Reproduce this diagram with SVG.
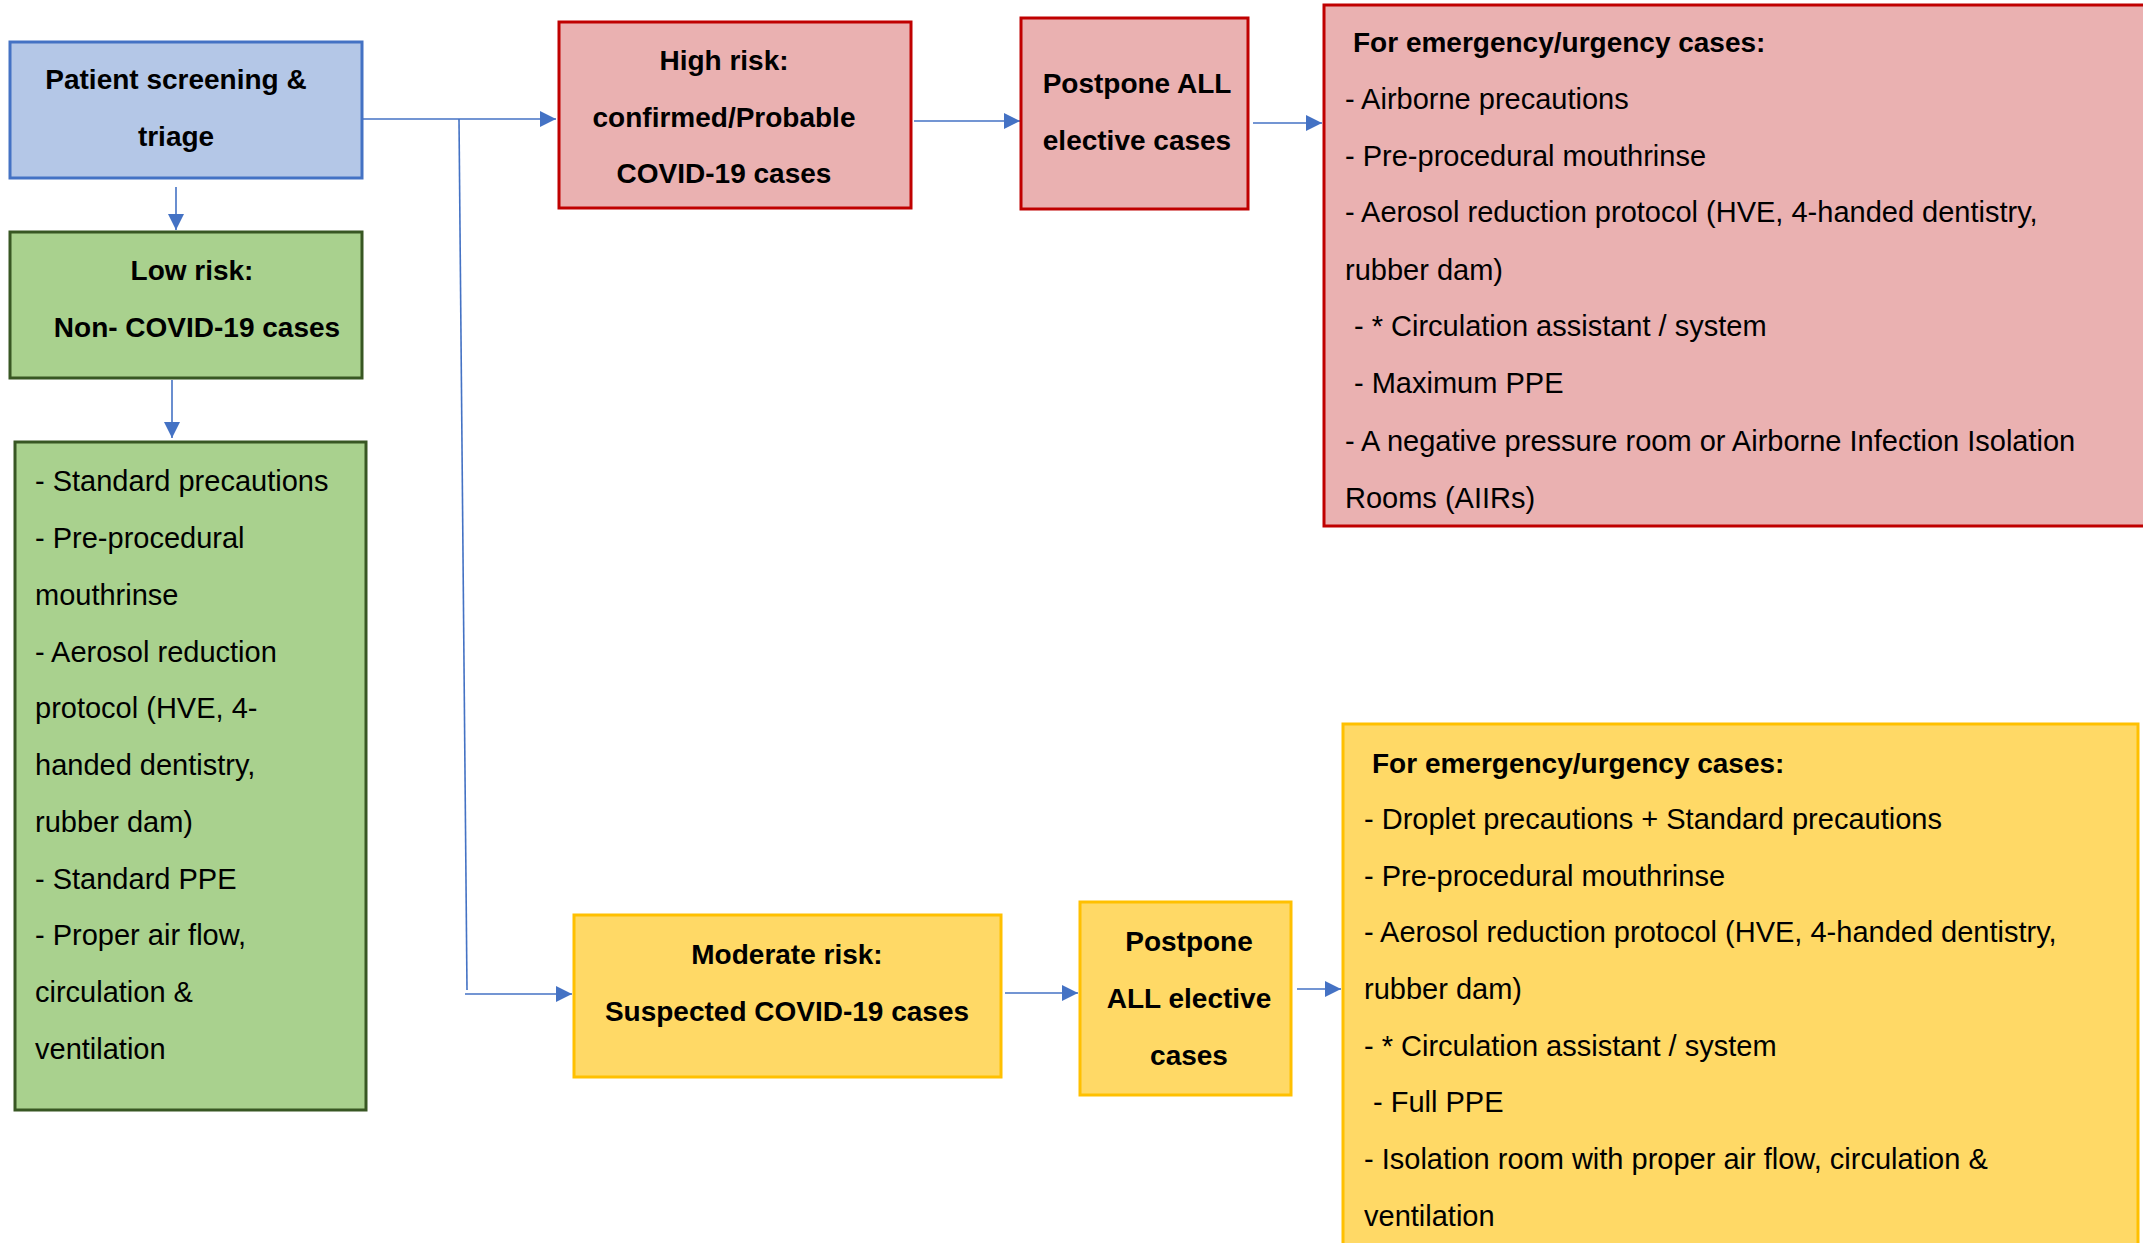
<svg xmlns="http://www.w3.org/2000/svg" width="2143" height="1243" viewBox="0 0 2143 1243">
<style>
.bx{stroke-width:3}
.blue{fill:#B4C7E7;stroke:#4472C4}
.green{fill:#A9D18E;stroke:#385723}
.red{fill:#EAB1B1;stroke:#C00000}
.yel{fill:#FFD966;stroke:#FFC000}
.lbl{font-family:"Liberation Sans",Arial,sans-serif;font-size:28px;font-weight:bold;text-anchor:middle;fill:#000}
.ttl{font-family:"Liberation Sans",Arial,sans-serif;font-size:28px;font-weight:bold;fill:#000}
.lst{font-family:"Liberation Sans",Arial,sans-serif;font-size:29px;fill:#000}
.con{fill:none;stroke:#4472C4;stroke-width:1.6}
</style>
<defs>
<marker id="ah" viewBox="0 0 16 16" refX="16" refY="8" markerWidth="16" markerHeight="16" markerUnits="userSpaceOnUse" orient="auto">
<path d="M0,0 L16,8 L0,16 z" fill="#4472C4"/>
</marker>
</defs>
<rect width="2143" height="1243" fill="#fff"/>

<g id="connectors">
<path class="con" d="M362,119 H556" marker-end="url(#ah)"/>
<path class="con" d="M459,119 L467,990"/>
<path class="con" d="M465,994 H572" marker-end="url(#ah)"/>
<path class="con" d="M914,121 H1020" marker-end="url(#ah)"/>
<path class="con" d="M1253,123 H1322" marker-end="url(#ah)"/>
<path class="con" d="M1005,993 H1078" marker-end="url(#ah)"/>
<path class="con" d="M1297,989 H1341" marker-end="url(#ah)"/>
<path class="con" d="M176,187 V230" marker-end="url(#ah)"/>
<path class="con" d="M172,380 V438" marker-end="url(#ah)"/>
</g>

<g id="screening">
<rect class="bx blue" x="10" y="42" width="352" height="136"/>
<text class="lbl" x="176" y="89">Patient screening &amp;</text>
<text class="lbl" x="176" y="146">triage</text>
</g>

<g id="low-risk">
<rect class="bx green" x="10" y="232" width="352" height="146"/>
<text class="lbl" x="192" y="280">Low risk:</text>
<text class="lbl" x="197" y="337">Non- COVID-19 cases</text>
</g>

<g id="low-risk-measures">
<rect class="bx green" x="15" y="442" width="351" height="668"/>
<text class="lst" x="35" y="491">- Standard precautions</text>
<text class="lst" x="35" y="548">- Pre-procedural</text>
<text class="lst" x="35" y="605">mouthrinse</text>
<text class="lst" x="35" y="662">- Aerosol reduction</text>
<text class="lst" x="35" y="718">protocol (HVE, 4-</text>
<text class="lst" x="35" y="775">handed dentistry,</text>
<text class="lst" x="35" y="832">rubber dam)</text>
<text class="lst" x="35" y="889">- Standard PPE</text>
<text class="lst" x="35" y="945">- Proper air flow,</text>
<text class="lst" x="35" y="1002">circulation &amp;</text>
<text class="lst" x="35" y="1059">ventilation</text>
</g>

<g id="high-risk">
<rect class="bx red" x="559" y="22" width="352" height="186"/>
<text class="lbl" x="724" y="70">High risk:</text>
<text class="lbl" x="724" y="127">confirmed/Probable</text>
<text class="lbl" x="724" y="183">COVID-19 cases</text>
</g>

<g id="high-postpone">
<rect class="bx red" x="1021" y="18" width="227" height="191"/>
<text class="lbl" x="1137" y="93">Postpone ALL</text>
<text class="lbl" x="1137" y="150">elective cases</text>
</g>

<g id="high-emergency">
<rect class="bx red" x="1324" y="5" width="830" height="521"/>
<text class="ttl" x="1353" y="52">For emergency/urgency cases:</text>
<text class="lst" x="1345" y="109">- Airborne precautions</text>
<text class="lst" x="1345" y="166">- Pre-procedural mouthrinse</text>
<text class="lst" x="1345" y="222">- Aerosol reduction protocol (HVE, 4-handed dentistry,</text>
<text class="lst" x="1345" y="280">rubber dam)</text>
<text class="lst" x="1354" y="336">- * Circulation assistant / system</text>
<text class="lst" x="1354" y="393">- Maximum PPE</text>
<text class="lst" x="1345" y="451">- A negative pressure room or Airborne Infection Isolation</text>
<text class="lst" x="1345" y="508">Rooms (AIIRs)</text>
</g>

<g id="moderate-risk">
<rect class="bx yel" x="574" y="915" width="427" height="162"/>
<text class="lbl" x="787" y="964">Moderate risk:</text>
<text class="lbl" x="787" y="1021">Suspected COVID-19 cases</text>
</g>

<g id="moderate-postpone">
<rect class="bx yel" x="1080" y="902" width="211" height="193"/>
<text class="lbl" x="1189" y="951">Postpone</text>
<text class="lbl" x="1189" y="1008">ALL elective</text>
<text class="lbl" x="1189" y="1065">cases</text>
</g>

<g id="moderate-emergency">
<rect class="bx yel" x="1343" y="724" width="795" height="540"/>
<text class="ttl" x="1372" y="773">For emergency/urgency cases:</text>
<text class="lst" x="1364" y="829">- Droplet precautions + Standard precautions</text>
<text class="lst" x="1364" y="886">- Pre-procedural mouthrinse</text>
<text class="lst" x="1364" y="942">- Aerosol reduction protocol (HVE, 4-handed dentistry,</text>
<text class="lst" x="1364" y="999">rubber dam)</text>
<text class="lst" x="1364" y="1056">- * Circulation assistant / system</text>
<text class="lst" x="1373" y="1112">- Full PPE</text>
<text class="lst" x="1364" y="1169">- Isolation room with proper air flow, circulation &amp;</text>
<text class="lst" x="1364" y="1226">ventilation</text>
</g>
</svg>
